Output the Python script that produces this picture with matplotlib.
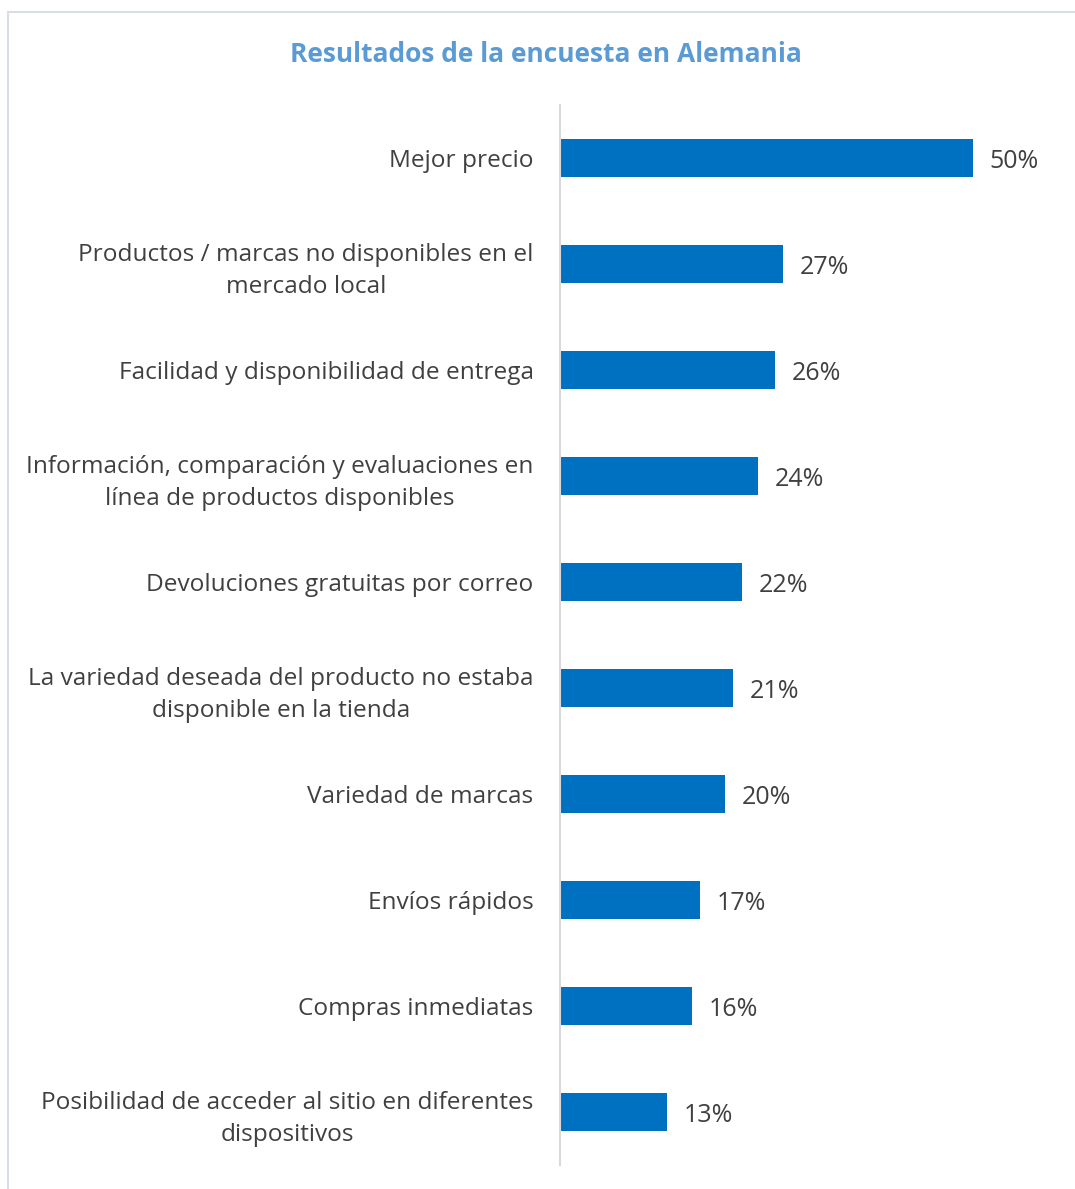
import matplotlib.pyplot as plt
from matplotlib.patches import Rectangle

categories = [
    "Mejor precio",
    "Productos / marcas no disponibles en el\nmercado local",
    "Facilidad y disponibilidad de entrega",
    "Información, comparación y evaluaciones en\nlínea de productos disponibles",
    "Devoluciones gratuitas por correo",
    "La variedad deseada del producto no estaba\ndisponible en la tienda",
    "Variedad de marcas",
    "Envíos rápidos",
    "Compras inmediatas",
    "Posibilidad de acceder al sitio en diferentes\ndispositivos",
]
values = [50, 27, 26, 24, 22, 21, 20, 17, 16, 13]
title = "Resultados de la encuesta en Alemania"

plt.rcParams['font.family'] = ['Open Sans', 'DejaVu Sans']

W, H = 1075, 1189
fig = plt.figure(figsize=(W / 100, H / 100), dpi=100)

# outer frame (right and bottom edges fall outside the picture)
fig.patches.append(Rectangle((8 / W, -0.1), 1.2, 1.1 - 12 / H, transform=fig.transFigure,
                             fill=False, edgecolor='#d9dde6', lw=1.5))

ax = fig.add_axes([560 / W, 24 / H, 512 / W, 1060 / H])
y = list(range(len(categories)))
ax.barh(y, values, height=0.36, color='#0070c0')
ax.set_ylim(len(categories) - 0.5, -0.5)
ax.set_xlim(0, 62)

ax.set_yticks(y)
ax.set_yticklabels(categories, fontsize=17.6, color='#404040', ha='right', linespacing=1.45)
for lab in ax.get_yticklabels():
    lab.set_multialignment('center')
ax.tick_params(axis='y', length=0, pad=19)
ax.set_xticks([])

for s in ['top', 'right', 'bottom']:
    ax.spines[s].set_visible(False)
ax.spines['left'].set_color('#d9d9d9')
ax.spines['left'].set_linewidth(1.5)

for yi, v in zip(y, values):
    ax.annotate(f"{v}%", (v, yi), xytext=(12, 0), textcoords='offset points',
                va='center_baseline', ha='left', fontsize=18, color='#404040')

fig.text(546 / W, 1 - 55 / H, title, ha='center', va='center',
         fontsize=19, fontweight='bold', color='#5b9bd5')

fig.savefig('out.png', dpi=100)
